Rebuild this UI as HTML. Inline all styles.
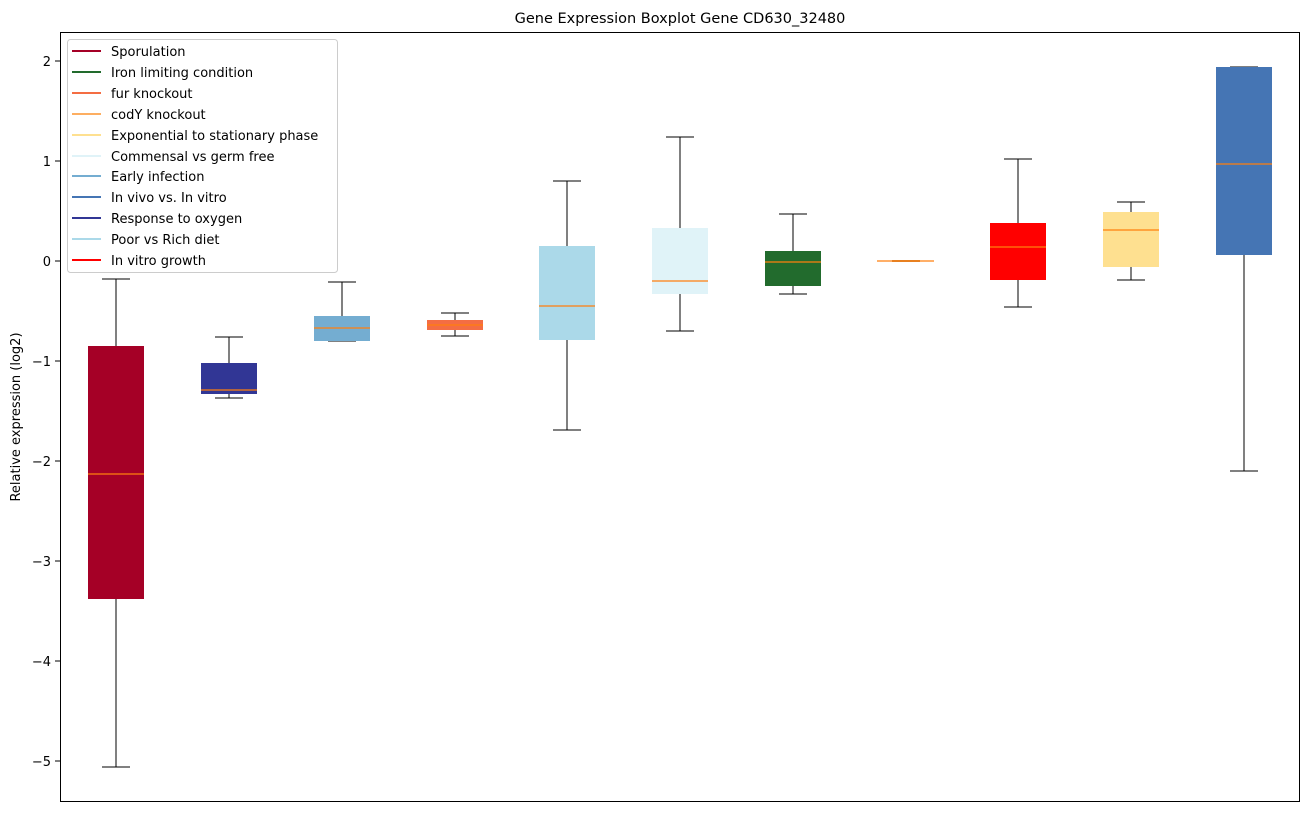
<!DOCTYPE html>
<html><head><meta charset="utf-8"><style>
body{margin:0;background:#fff}
svg text{font-family:"DejaVu Sans","Liberation Sans",sans-serif;fill:#000}
</style></head><body>
<svg width="1309" height="812" xmlns="http://www.w3.org/2000/svg">
<text x="680" y="23" font-size="14.5" text-anchor="middle">Gene Expression Boxplot Gene CD630_32480</text>
<g stroke="#000" stroke-width="1" shape-rendering="crispEdges">
<line x1="55" x2="60" y1="61" y2="61"/><line x1="55" x2="60" y1="161" y2="161"/><line x1="55" x2="60" y1="261" y2="261"/><line x1="55" x2="60" y1="361" y2="361"/><line x1="55" x2="60" y1="461" y2="461"/><line x1="55" x2="60" y1="561" y2="561"/><line x1="55" x2="60" y1="661" y2="661"/><line x1="55" x2="60" y1="761" y2="761"/>
</g>
<g font-size="13" text-anchor="end">
<text x="51" y="66">2</text><text x="51" y="166">1</text><text x="51" y="266">0</text><text x="51" y="366">−1</text><text x="51" y="466">−2</text><text x="51" y="566">−3</text><text x="51" y="666">−4</text><text x="51" y="766">−5</text>
</g>
<text x="20" y="417" font-size="13" text-anchor="middle" transform="rotate(-90 20 417)">Relative expression (log2)</text>
<g stroke="#000" stroke-width="1" shape-rendering="crispEdges">
<line x1="116" x2="116" y1="279" y2="767"/><line x1="102" x2="130" y1="279" y2="279"/><line x1="102" x2="130" y1="767" y2="767"/>
<line x1="229" x2="229" y1="337" y2="398"/><line x1="215" x2="243" y1="337" y2="337"/><line x1="215" x2="243" y1="398" y2="398"/>
<line x1="342" x2="342" y1="282" y2="341"/><line x1="328" x2="356" y1="282" y2="282"/><line x1="328" x2="356" y1="341" y2="341"/>
<line x1="455" x2="455" y1="313" y2="336"/><line x1="441" x2="469" y1="313" y2="313"/><line x1="441" x2="469" y1="336" y2="336"/>
<line x1="567" x2="567" y1="181" y2="430"/><line x1="553" x2="581" y1="181" y2="181"/><line x1="553" x2="581" y1="430" y2="430"/>
<line x1="680" x2="680" y1="137" y2="331"/><line x1="666" x2="694" y1="137" y2="137"/><line x1="666" x2="694" y1="331" y2="331"/>
<line x1="793" x2="793" y1="214" y2="294"/><line x1="779" x2="807" y1="214" y2="214"/><line x1="779" x2="807" y1="294" y2="294"/>
<line x1="1018" x2="1018" y1="159" y2="307"/><line x1="1004" x2="1032" y1="159" y2="159"/><line x1="1004" x2="1032" y1="307" y2="307"/>
<line x1="1131" x2="1131" y1="202" y2="280"/><line x1="1117" x2="1145" y1="202" y2="202"/><line x1="1117" x2="1145" y1="280" y2="280"/>
<line x1="1244" x2="1244" y1="67" y2="471"/><line x1="1230" x2="1258" y1="67" y2="67"/><line x1="1230" x2="1258" y1="471" y2="471"/>
</g>
<g stroke="none">
<rect x="88" y="346" width="56" height="253" fill="#a50026"/>
<rect x="201" y="363" width="56" height="31" fill="#313695"/>
<rect x="314" y="316" width="56" height="25" fill="#74add1"/>
<rect x="427" y="320" width="56" height="10" fill="#f46d43"/>
<rect x="539" y="246" width="56" height="94" fill="#abd9e9"/>
<rect x="652" y="228" width="56" height="66" fill="#e0f3f8"/>
<rect x="765" y="251" width="56" height="35" fill="#226b2d"/>
<rect x="892" y="260" width="28" height="2" fill="#c08040"/>
<rect x="990" y="223" width="56" height="57" fill="#ff0000"/>
<rect x="1103" y="212" width="56" height="55" fill="#fee090"/>
<rect x="1216" y="67" width="56" height="188" fill="#4575b4"/>
</g>
<g stroke="#ff7f0e" stroke-width="1.2">
<line x1="88" x2="144" y1="474" y2="474"/><line x1="201" x2="257" y1="390" y2="390"/><line x1="314" x2="370" y1="328" y2="328"/><line x1="427" x2="483" y1="325" y2="325"/><line x1="539" x2="595" y1="306" y2="306"/><line x1="652" x2="708" y1="281" y2="281"/><line x1="765" x2="821" y1="262" y2="262"/><line x1="877" x2="934" y1="261" y2="261"/><line x1="990" x2="1046" y1="247" y2="247"/><line x1="1103" x2="1159" y1="230" y2="230"/><line x1="1216" x2="1272" y1="164" y2="164"/>
</g>
<rect x="60.5" y="32.5" width="1239" height="769" fill="none" stroke="#000"/>
<rect x="67.5" y="39.5" width="270" height="233" rx="3" fill="#fff" fill-opacity="0.8" stroke="#ccc"/>
<g stroke-width="2">
<line x1="72" x2="101" y1="51" y2="51" stroke="#a50026"/>
<line x1="72" x2="101" y1="72" y2="72" stroke="#226b2d"/>
<line x1="72" x2="101" y1="93" y2="93" stroke="#f46d43"/>
<line x1="72" x2="101" y1="114" y2="114" stroke="#fdae61"/>
<line x1="72" x2="101" y1="135" y2="135" stroke="#fee090"/>
<line x1="72" x2="101" y1="156" y2="156" stroke="#e0f3f8"/>
<line x1="72" x2="101" y1="176" y2="176" stroke="#74add1"/>
<line x1="72" x2="101" y1="197" y2="197" stroke="#4575b4"/>
<line x1="72" x2="101" y1="218" y2="218" stroke="#313695"/>
<line x1="72" x2="101" y1="239" y2="239" stroke="#abd9e9"/>
<line x1="72" x2="101" y1="260" y2="260" stroke="#ff0000"/>
</g>
<g font-size="13">
<text x="111" y="56">Sporulation</text>
<text x="111" y="77">Iron limiting condition</text>
<text x="111" y="98">fur knockout</text>
<text x="111" y="119">codY knockout</text>
<text x="111" y="140">Exponential to stationary phase</text>
<text x="111" y="161">Commensal vs germ free</text>
<text x="111" y="181">Early infection</text>
<text x="111" y="202">In vivo vs. In vitro</text>
<text x="111" y="223">Response to oxygen</text>
<text x="111" y="244">Poor vs Rich diet</text>
<text x="111" y="265">In vitro growth</text>
</g>
</svg>
</body></html>
